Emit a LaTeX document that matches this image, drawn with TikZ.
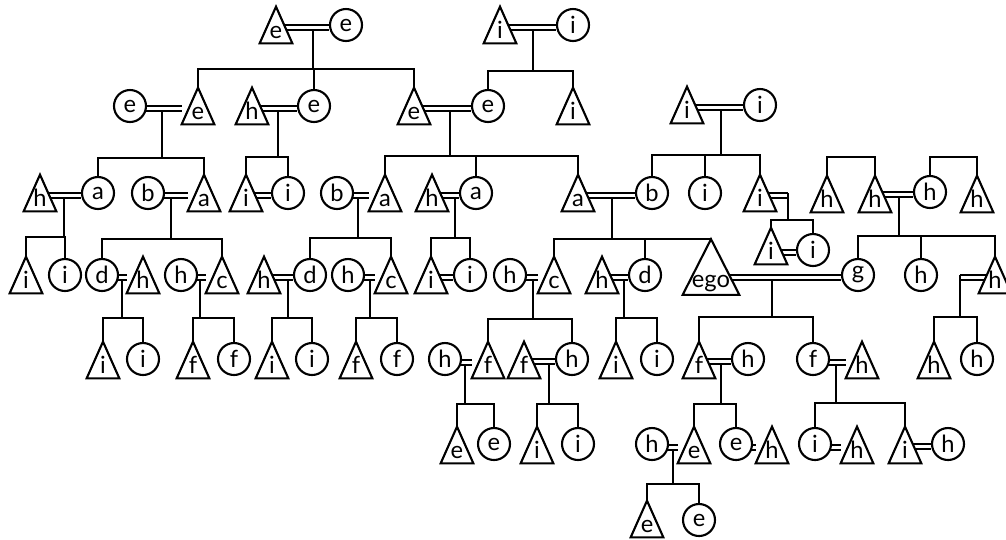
\documentclass[tikz,border=0pt]{standalone}
\usepackage{fontspec}
\setmainfont{Lato}
\usetikzlibrary{calc}
\pgfdeclarelayer{fondo}
\pgfdeclarelayer{figuras}
\pgfsetlayers{fondo,figuras,main}

\begin{document}
\begin{tikzpicture}[
        x=0.02cm, y=-0.02cm,
        linea/.style={line width=1.3pt},
        casado/.style={double, line width=1.1pt, double distance=1.5pt,
            transform canvas={yshift=-0.05cm}},
        mujer/.style={
            circle,
            draw,
            line width=1.2pt,
            fill=white,
            minimum size=0.64cm,
            inner sep=0pt,
            font=\fontsize{13.5}{15}\selectfont
        },
        varon/.style={
            rectangle,
            minimum width=0.64cm,
            minimum height=0.72cm,
            inner sep=0pt,
            text height=0.63cm,
            text depth=0.09cm,
            font=\fontsize{13.5}{15}\selectfont
        },
        yo/.style={varon, minimum width=1.12cm, minimum height=1.1cm,
            text height=0.96cm, text depth=0.14cm}
    ]
        \useasboundingbox (0,0) rectangle (1006,539);

        % generacion 0
        \node[varon] (t0a) at (276,25) {e};
        \node[mujer] (c0a) at (346,25) {e};
        \node[varon] (t0b) at (500,25) {i};
        \node[mujer] (c0b) at (573,25) {i};

        % generacion 1
        \node[mujer] (c1a) at (130,106) {e};
        \node[varon] (t1a) at (198,106) {e};
        \node[varon] (t1b) at (252,106) {h};
        \node[mujer] (c1b) at (314,106) {e};
        \node[varon] (t1c) at (414,106) {e};
        \node[mujer] (c1c) at (488,106) {e};
        \node[varon] (t1d) at (573,106) {i};
        \node[varon] (t1e) at (687,105) {i};
        \node[mujer] (c1e) at (760,105) {i};

        % generacion 2
        \node[varon] (t2a) at (40,193) {h};
        \node[mujer] (c2a) at (98,193) {a};
        \node[mujer] (c2b) at (148,193) {b};
        \node[varon] (t2b) at (204,193) {a};
        \node[varon] (t2c) at (246,193) {i};
        \node[mujer] (c2c) at (288,193) {i};
        \node[mujer] (c2d) at (337,193) {b};
        \node[varon] (t2e) at (385,193) {a};
        \node[varon] (t2f) at (432,193) {h};
        \node[mujer] (c2f) at (476,193) {a};
        \node[varon] (t2g) at (578,193) {a};
        \node[mujer] (c2h) at (652,193) {b};
        \node[mujer] (c2i) at (705,193) {i};
        \node[varon] (t2j) at (760,193) {i};
        \node[varon] (t2k) at (827,194) {h};
        \node[varon] (t2l) at (875,194) {h};
        \node[mujer] (c2m) at (930,192) {h};
        \node[varon] (t2n) at (977,194) {h};
        \node[varon] (t25a) at (771,246) {i};
        \node[mujer] (c25b) at (813,250) {i};

        % generacion 3
        \node[varon] (t3a) at (26,275) {i};
        \node[mujer] (c3b) at (65,275) {i};
        \node[mujer] (c3c) at (102,275) {d};
        \node[varon] (t3d) at (143,275) {h};
        \node[mujer] (c3e) at (181,275) {h};
        \node[varon] (t3f) at (222,275) {c};
        \node[varon] (t3g) at (264,275) {h};
        \node[mujer] (c3h) at (310,275) {d};
        \node[mujer] (c3i) at (348,275) {h};
        \node[varon] (t3j) at (391,275) {c};
        \node[varon] (t3k) at (431,275) {i};
        \node[mujer] (c3l) at (470,275) {i};
        \node[mujer] (c3m) at (510,275) {h};
        \node[varon] (t3n) at (554,275) {c};
        \node[varon] (t3o) at (602,275) {h};
        \node[mujer] (c3p) at (645,275) {d};
        \node[yo] (ego) at (711,267) {ego};
        \node[mujer] (c3r) at (858,275) {g};
        \node[mujer] (c3s) at (921,275) {h};
        \node[varon] (t3t) at (995,275) {h};

        % generacion 4
        \node[varon] (t4a) at (103,360) {i};
        \node[mujer] (c4b) at (143,359) {i};
        \node[varon] (t4c) at (193,360) {f};
        \node[mujer] (c4d) at (234,359) {f};
        \node[varon] (t4e) at (272,360) {i};
        \node[mujer] (c4f) at (312,359) {i};
        \node[varon] (t4g) at (356,360) {f};
        \node[mujer] (c4h) at (397,359) {f};
        \node[mujer] (c4i) at (445,359) {h};
        \node[varon] (t4j) at (488,360) {f};
        \node[varon] (t4l) at (524,360) {f};
        \node[mujer] (c4k) at (572,359) {h};
        \node[varon] (t4m) at (616,360) {i};
        \node[mujer] (c4n) at (657,359) {i};
        \node[varon] (t4o) at (699,360) {f};
        \node[mujer] (c4p) at (748,359) {h};
        \node[mujer] (c4q) at (813,359) {f};
        \node[varon] (t4r) at (862,360) {h};
        \node[varon] (t4s) at (934,360) {h};
        \node[mujer] (c4t) at (977,359) {h};

        % generacion 5
        \node[varon] (t5a) at (457,445) {e};
        \node[mujer] (c5b) at (494,444) {e};
        \node[varon] (t5c) at (537,445) {i};
        \node[mujer] (c5d) at (578,444) {i};
        \node[mujer] (c5e) at (652,444) {h};
        \node[varon] (t5f) at (694,445) {e};
        \node[mujer] (c5g) at (736,444) {e};
        \node[varon] (t5h) at (772,445) {h};
        \node[mujer] (c5i) at (815,444) {i};
        \node[varon] (t5j) at (857,445) {h};
        \node[varon] (t5k) at (905,445) {i};
        \node[mujer] (c5l) at (948,444) {h};

        % generacion 6
        \node[varon] (t6a) at (647,519) {e};
        \node[mujer] (c6b) at (699,520) {e};

        % triangulos
        \begin{pgfonlayer}{figuras}
            \foreach \n in {t0a,t0b,t1a,t1b,t1c,t1d,t1e,t2a,t2b,t2c,t2e,t2f,t2g,
                t2j,t2k,t2l,t2n,t25a,t3a,t3d,t3f,t3g,t3j,t3k,t3n,t3o,t3t,t4a,t4c,
                t4e,t4g,t4j,t4l,t4m,t4o,t4r,t4s,t5a,t5c,t5f,t5h,t5j,t5k,t6a,ego}
                \draw[line width=1.2pt, fill=white]
                    (\n.south west) -- (\n.north) -- (\n.south east) -- cycle;
        \end{pgfonlayer}

        \begin{pgfonlayer}{fondo}
            % hijos
            \coordinate (k0a) at (313,69);
            \draw[linea] (k0a |- t0a) -- (k0a);
            \draw[linea] (t1a.north) |- (k0a) -| (t1c.north);
            \draw[linea] (c1b.north) -- (c1b.north |- k0a);

            \coordinate (k0b) at (533,71);
            \draw[linea] (k0b |- t0b) -- (k0b);
            \draw[linea] (c1c.north) |- (k0b) -| (t1d.north);

            \coordinate (k1a) at (162,158);
            \draw[linea] (k1a |- c1a) -- (k1a);
            \draw[linea] (c2a.north) |- (k1a) -| (t2b.north);

            \coordinate (k1b) at (278,157);
            \draw[linea] (k1b |- t1b) -- (k1b);
            \draw[linea] (t2c.north) |- (k1b) -| (c2c.north);

            \coordinate (k1c) at (450,156);
            \draw[linea] (k1c |- t1c) -- (k1c);
            \draw[linea] (t2e.north) |- (k1c) -| (t2g.north);
            \draw[linea] (c2f.north) -- (c2f.north |- k1c);

            \coordinate (k1e) at (721,155);
            \draw[linea] (k1e |- t1e) -- (k1e);
            \draw[linea] (c2h.north) |- (k1e) -| (t2j.north);
            \draw[linea] (c2i.north) -- (c2i.north |- k1e);

            \coordinate (k2a) at (64,237);
            \draw[linea] (k2a |- c2a) -- (k2a);
            \draw[linea] (t3a.north) |- (k2a) -| (c3b.north);

            \coordinate (k2b) at (171,239);
            \draw[linea] (k2b |- c2b) -- (k2b);
            \draw[linea] (c3c.north) |- (k2b) -| (t3f.north);

            \coordinate (k2d) at (358,238);
            \draw[linea] (k2d |- c2d) -- (k2d);
            \draw[linea] (c3h.north) |- (k2d) -| (t3j.north);

            \coordinate (k2f) at (455,238);
            \draw[linea] (k2f |- t2f) -- (k2f);
            \draw[linea] (t3k.north) |- (k2f) -| (c3l.north);

            \coordinate (k2g) at (612,239);
            \draw[linea] (k2g |- t2g) -- (k2g);
            \draw[linea] (t3n.north) |- (k2g) -| (ego.north);
            \draw[linea] (c3p.north) -- (c3p.north |- k2g);

            \coordinate (k2k) at (851,157);
            \draw[linea] (t2k.north) |- (k2k) -| (t2l.north);
            \coordinate (k2m) at (953,157);
            \draw[linea] (c2m.north) |- (k2m) -| (t2n.north);

            \coordinate (k2l) at (899,236);
            \draw[linea] (k2l |- t2l) -- (k2l);
            \draw[linea] (c3r.north) |- (k2l) -| (t3t.north);
            \draw[linea] (c3s.north) -- (c3s.north |- k2l);

            \coordinate (k2j) at (788,220);
            \draw[linea] (t25a.north) |- (k2j) -| (c25b.north);

            \coordinate (k3c) at (122,318);
            \draw[linea] (k3c |- c3c) -- (k3c);
            \draw[linea] (t4a.north) |- (k3c) -| (c4b.north);

            \coordinate (k3e) at (200,318);
            \draw[linea] (k3e |- c3e) -- (k3e);
            \draw[linea] (t4c.north) |- (k3e) -| (c4d.north);

            \coordinate (k3g) at (288,318);
            \draw[linea] (k3g |- t3g) -- (k3g);
            \draw[linea] (t4e.north) |- (k3g) -| (c4f.north);

            \coordinate (k3i) at (370,318);
            \draw[linea] (k3i |- c3i) -- (k3i);
            \draw[linea] (t4g.north) |- (k3i) -| (c4h.north);

            \coordinate (k3m) at (533,319);
            \draw[linea] (k3m |- c3m) -- (k3m);
            \draw[linea] (t4j.north) |- (k3m) -| (c4k.north);

            \coordinate (k3o) at (624,318);
            \draw[linea] (k3o |- t3o) -- (k3o);
            \draw[linea] (t4m.north) |- (k3o) -| (c4n.north);

            \coordinate (k3r) at (772,317);
            \draw[linea] (k3r |- c3r) -- (k3r);
            \draw[linea] (t4o.north) |- (k3r) -| (c4q.north);

            \coordinate (k3t) at (960,317);
            \draw[linea] (t4s.north) |- (k3t) -| (c4t.north);

            \coordinate (k4i) at (465,404);
            \draw[linea] (k4i |- c4i) -- (k4i);
            \draw[linea] (t5a.north) |- (k4i) -| (c5b.north);

            \coordinate (k4l) at (549,404);
            \draw[linea] (k4l |- t4l) -- (k4l);
            \draw[linea] (t5c.north) |- (k4l) -| (c5d.north);

            \coordinate (k4o) at (721,404);
            \draw[linea] (k4o |- t4o) -- (k4o);
            \draw[linea] (t5f.north) |- (k4o) -| (c5g.north);

            \coordinate (k4q) at (836,403);
            \draw[linea] (k4q |- c4q) -- (k4q);
            \draw[linea] (c5i.north) |- (k4q) -| (t5k.north);

            \coordinate (k5e) at (673,484);
            \draw[linea] (k5e |- c5e) -- (k5e);
            \draw[linea] (t6a.north) |- (k5e) -| (c6b.north);

            % matrimonios
            \coordinate (e2j) at (788,193);
            \coordinate (e3t) at (960,275);
            \foreach \a/\b in {t0a/c0a, t0b/c0b, c1a/t1a, t1b/c1b, t1c/c1c, t1e/c1e,
                t2a/c2a, c2b/t2b, t2c/c2c, c2d/t2e, t2f/c2f, t2g/c2h, t2l/c2m,
                t25a/c25b, c3c/t3d, c3e/t3f, t3g/c3h, c3i/t3j, t3k/c3l, c3m/t3n,
                t3o/c3p, ego/c3r, c4i/t4j, t4l/c4k, t4o/c4p, c4q/t4r, c5e/t5f,
                c5g/t5h, c5i/t5j, t5k/c5l, t2j/e2j, t3t/e3t}
                \draw[casado] (\a |- \b) -- (\b);
            \draw[linea] (e2j) -- (k2j);
            \draw[linea] (e3t) -- (k3t);
        \end{pgfonlayer}
    \end{tikzpicture}
\end{document}
